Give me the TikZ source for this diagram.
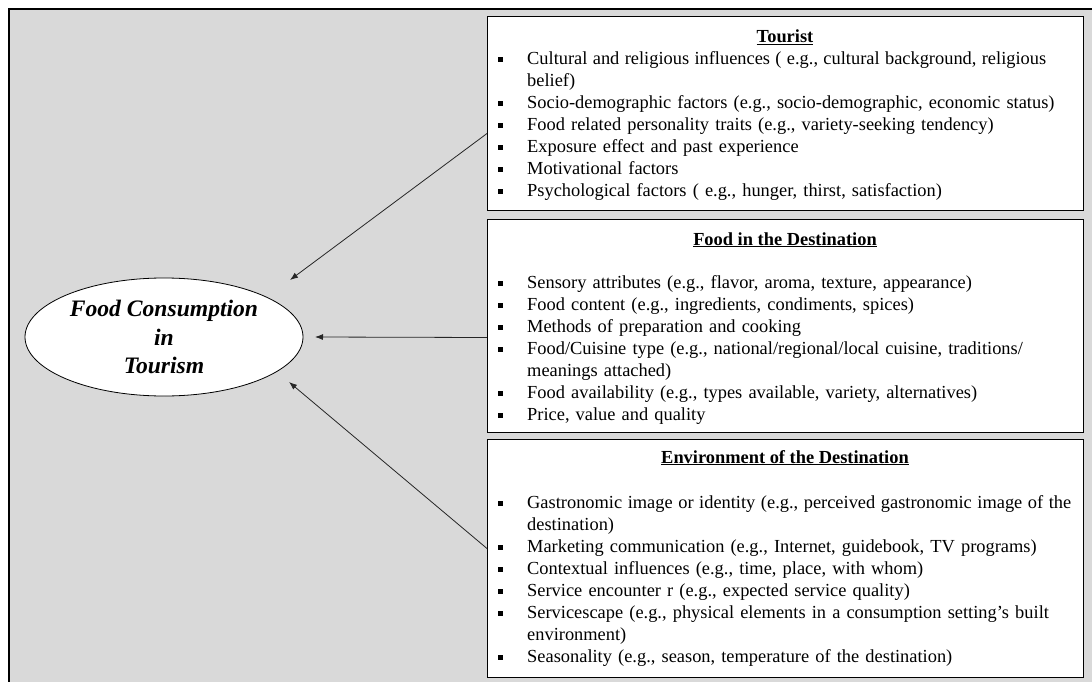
\documentclass[tikz,border=0pt]{standalone}
\usepackage{fontspec}
\setmainfont{Liberation Serif}
\usetikzlibrary{arrows.meta,shapes.geometric}
\definecolor{bgray}{HTML}{D9D9D9}
\newcommand{\bul}[1]{\par\noindent\makebox[40pt][l]{\hspace{11pt}\raisebox{3pt}{\rule{5pt}{5pt}}}\strut#1}
\newcommand{\cont}[1]{\par\noindent\hspace*{40pt}\strut#1}
\newcommand{\fitline}[2]{\hbox to #1{\frenchspacing\spaceskip=0pt plus 1fil\relax #2}}
\tikzset{
  panel/.style={draw=black, line width=1pt, fill=white, anchor=north west, inner sep=0pt, minimum width=596pt},
  heading/.style={anchor=base, inner sep=0pt, font=\fontsize{18.4}{22}\selectfont\bfseries},
  listtext/.style={anchor=north west, inner sep=0pt, text width=800pt, align=left, font=\fontsize{18.4}{22}\selectfont},
  arr/.style={draw=black!85, line width=0.8pt, -{Latex[length=8pt,width=6pt]}}
}
\begin{document}
\begin{tikzpicture}[x=1pt,y=-1pt]
\useasboundingbox (0,0) rectangle (1092,682);
\fill[white] (0,0) rectangle (1092,682);
\draw[line width=2pt, fill=bgray] (9,9) rectangle (1110,700);

\node[panel, minimum height=194pt] (tourist) at (487,16) {};
\node[panel, minimum height=213pt] (food) at (487,219) {};
\node[panel, minimum height=238pt] (env) at (487,439) {};

\node[heading] (touristh) at (785,43) {\underline{Tourist}};
\node[listtext] (touristl) at (487,42.6) {%
\bul{\fitline{519pt}{Cultural and religious influences ( e.g., cultural background, religious}}
\cont{belief)}
\bul{Socio-demographic factors (e.g., socio-demographic, economic status)}
\bul{Food related personality traits (e.g., variety-seeking tendency)}
\bul{Exposure effect and past experience}
\bul{Motivational factors}
\bul{Psychological factors ( e.g., hunger, thirst, satisfaction)}};

\node[heading] (foodh) at (785,245) {\underline{Food in the Destination}};
\node[listtext] (foodl) at (487,266.6) {%
\bul{Sensory attributes (e.g., flavor, aroma, texture, appearance)}
\bul{Food content (e.g., ingredients, condiments, spices)}
\bul{Methods of preparation and cooking}
\bul{Food/Cuisine type (e.g., national/regional/local cuisine, traditions/}
\cont{meanings attached)}
\bul{Food availability (e.g., types available, variety, alternatives)}
\bul{Price, value and quality}};

\node[heading] (envh) at (785,463) {\underline{Environment of the Destination}};
\node[listtext] (envl) at (487,486.6) {%
\bul{\fitline{544pt}{Gastronomic image or identity (e.g., perceived gastronomic image of the}}
\cont{destination)}
\bul{Marketing communication (e.g., Internet, guidebook, TV programs)}
\bul{Contextual influences (e.g., time, place, with whom)}
\bul{Service encounter r (e.g., expected service quality)}
\bul{Servicescape (e.g., physical elements in a consumption setting's built}
\cont{environment)}
\bul{Seasonality (e.g., season, temperature of the destination)}};

\node[ellipse, draw=black, line width=0.8pt, fill=white, minimum width=278pt, minimum height=118pt, inner sep=0pt, align=center, font=\fontsize{23.6}{28.5}\selectfont\bfseries\itshape] (fc) at (164,337) {Food Consumption\\in\\Tourism};

\coordinate (tt) at (290,280);
\coordinate (ft) at (315,337);
\coordinate (et) at (289,382);
\draw[arr] ([yshift=-20pt]tourist.west) -- (tt);
\draw[arr] ([yshift=-11.5pt]food.west) -- (ft);
\draw[arr] ([yshift=10pt]env.west) -- (et);
\end{tikzpicture}
\end{document}
